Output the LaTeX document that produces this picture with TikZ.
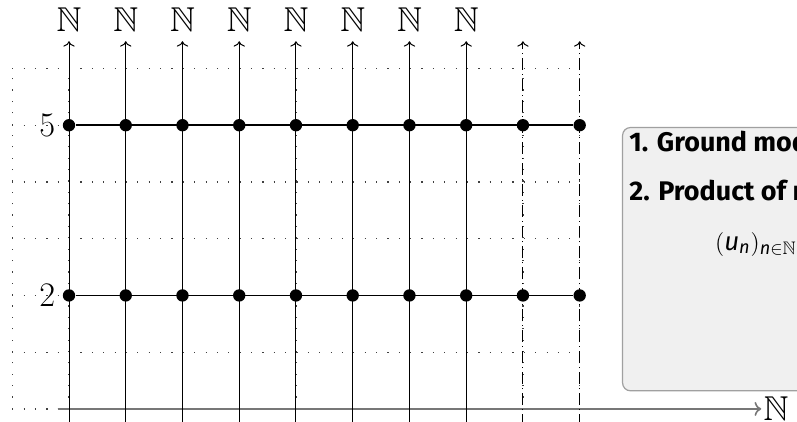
\documentclass[tikz,border=0pt]{standalone}
\usepackage{amsmath,amssymb}
\usepackage{fontspec}
\usepackage{tikz}
\usetikzlibrary{arrows.meta,positioning,calc}
\newfontfamily\boxfont{Fira Sans}
\definecolor{axisgray}{HTML}{777777}
\definecolor{boxfill}{HTML}{F0F0F0}
\definecolor{boxdraw}{HTML}{A0A0A0}
\tikzset{
  gridline/.style={black!75, line width=0.6pt, dash pattern=on 0.6pt off 5.1pt},
  fiber/.style={->, black, line width=0.5pt},
  extrafiber/.style={->, black, line width=0.5pt, dash pattern=on 6pt off 2pt on 0.5pt off 2pt},
  baseaxis/.style={->, axisgray, line width=0.8pt},
  row/.style={black, line width=0.8pt},
  pt/.style={circle, fill=black, inner sep=0pt, minimum size=6.2pt},
  setlabel/.style={font=\LARGE, inner sep=1pt},
  infobox/.style={draw=boxdraw, fill=boxfill, rounded corners=4pt, line width=0.6pt},
  infotext/.style={font=\boxfont\fontsize{13.5}{16}\selectfont\bfseries, anchor=base west, inner sep=0pt}
}

\begin{document}
\begin{tikzpicture}
    \useasboundingbox (-1.216,-0.229) rectangle (12.83,7.207);
    \clip (-1.216,-0.229) rectangle (12.83,7.207);
    % dotted background grid
    \draw[gridline] (-1,0) grid (9,6);
    % base axis
    \coordinate (xstart) at (-0.2,0);
    \node[setlabel, anchor=west] (xlab) at (12.2,0) {$\mathbb{N}$};
    \draw[baseaxis] (xstart) -- (xlab.west);
    % fibres over the base
    \foreach \i in {0,...,7} {
      \coordinate (bot\i) at (\i,-0.3);
      \node[setlabel] (lab\i) at (\i,6.86) {$\mathbb{N}$};
      \draw[fiber] (bot\i) -- (\i,6.48) coordinate (top\i);
    }
    \foreach \i in {8,9} {
      \coordinate (bot\i) at (\i,-0.3);
      \coordinate (top\i) at (\i,6.48);
      \draw[extrafiber] (bot\i) -- (top\i);
    }
    % the two chosen rows
    \foreach \r in {5,2} {
      \node[setlabel, anchor=east] (val\r) at (-0.2,\r) {$\r$};
      \foreach \i in {0,...,9} {
        \node[pt] (p\r-\i) at (\i,\r) {};
      }
      \draw[row] (p\r-0) -- (p\r-9);
    }
    % explanation box
    \node[infobox, anchor=north west, minimum width=5cm, minimum height=4.64cm] (info) at (9.745,4.97) {};
    \node[infotext] (step1) at (9.87,4.53) {1. Ground model};
    \node[infotext] (step2) at (9.87,3.665) {2. Product of models};
    \node[anchor=base west, inner sep=0pt, font=\fontsize{13}{16}\selectfont] (seq) at (11.38,2.80)
      {$(\text{\boxfont\itshape u}_{\text{\boxfont\itshape n}})_{\text{\boxfont\itshape n}\in\mathbb{N}}$};
\end{tikzpicture}
\end{document}
